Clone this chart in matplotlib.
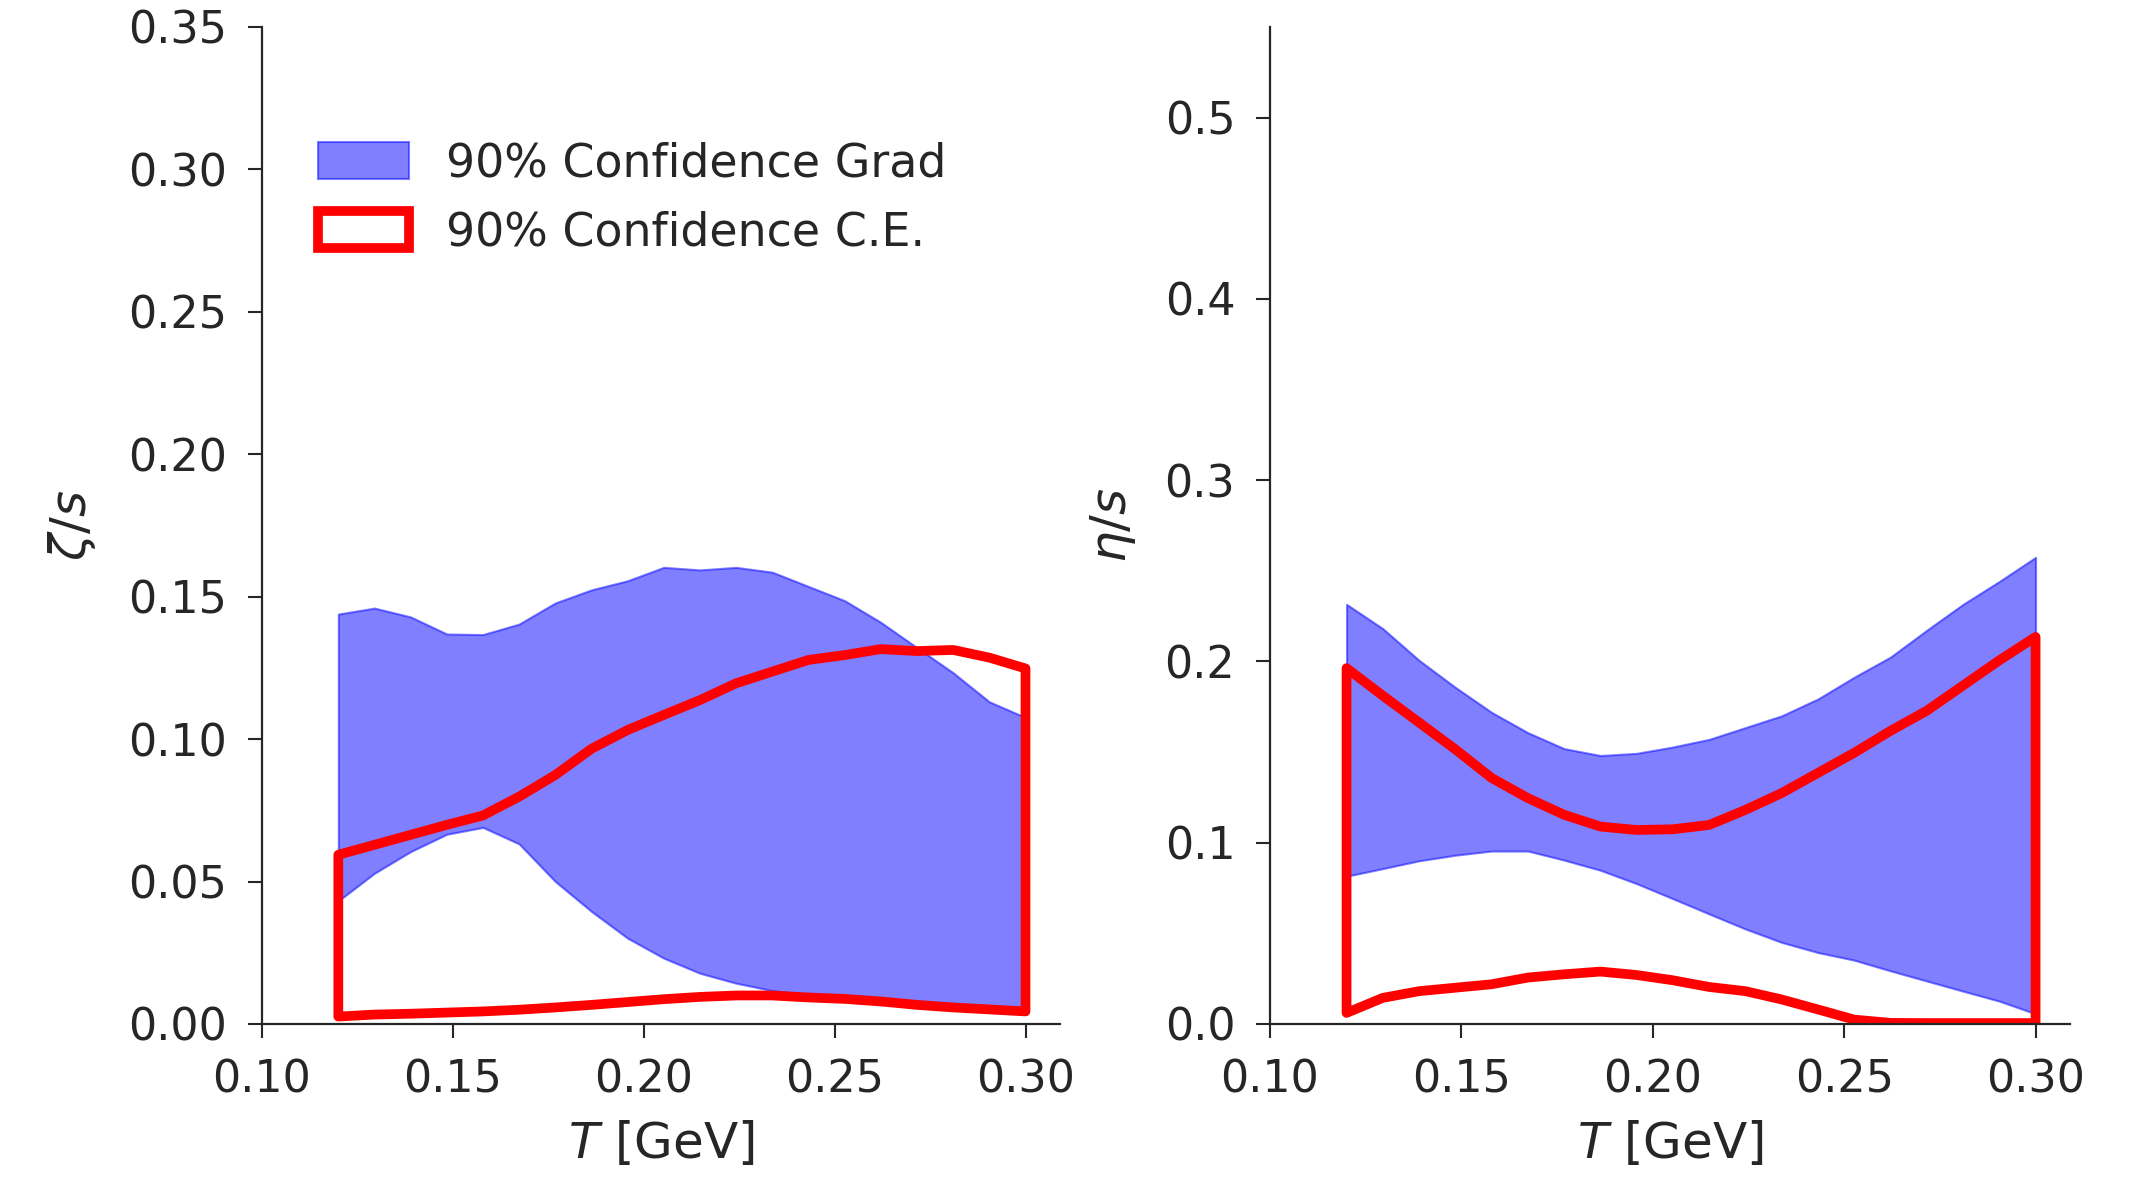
import numpy as np
import matplotlib
matplotlib.use("Agg")
import matplotlib.pyplot as plt

# Temperature grid [GeV]
T = np.linspace(0.12, 0.30, 20)

# Bulk viscosity zeta/s: 90% band, Grad viscous correction
zeta_grad_hi = [0.1439, 0.1460, 0.1429, 0.1369, 0.1367, 0.1404, 0.1478, 0.1524, 0.1556, 0.1603,
                0.1594, 0.1603, 0.1586, 0.1536, 0.1486, 0.1410, 0.1321, 0.1233, 0.1131, 0.1076]
zeta_grad_lo = [0.0432, 0.0529, 0.0605, 0.0666, 0.0690, 0.0632, 0.0500, 0.0395, 0.0301, 0.0231,
                0.0178, 0.0143, 0.0117, 0.0102, 0.0093, 0.0085, 0.0077, 0.0070, 0.0064, 0.0056]
# Bulk viscosity zeta/s: 90% band, Chapman-Enskog viscous correction
zeta_ce_hi = [0.0594, 0.0629, 0.0664, 0.0699, 0.0732, 0.0798, 0.0874, 0.0966, 0.1032, 0.1085,
              0.1137, 0.1196, 0.1237, 0.1278, 0.1295, 0.1316, 0.1309, 0.1313, 0.1286, 0.1248]
zeta_ce_lo = [0.0026, 0.0033, 0.0036, 0.0040, 0.0044, 0.0050, 0.0058, 0.0067, 0.0077, 0.0087,
              0.0095, 0.0100, 0.0100, 0.0093, 0.0088, 0.0079, 0.0067, 0.0058, 0.0051, 0.0044]

# Shear viscosity eta/s: 90% band, Grad
eta_grad_hi = [0.2315, 0.2181, 0.2006, 0.1857, 0.1719, 0.1607, 0.1519, 0.1481, 0.1493, 0.1528,
               0.1570, 0.1635, 0.1700, 0.1793, 0.1913, 0.2024, 0.2172, 0.2315, 0.2441, 0.2574]
eta_grad_lo = [0.0815, 0.0857, 0.0900, 0.0931, 0.0954, 0.0954, 0.0904, 0.0848, 0.0774, 0.0691,
               0.0607, 0.0524, 0.0450, 0.0394, 0.0352, 0.0293, 0.0237, 0.0181, 0.0126, 0.0056]
# Shear viscosity eta/s: 90% band, Chapman-Enskog
eta_ce_hi = [0.1963, 0.1811, 0.1663, 0.1515, 0.1357, 0.1246, 0.1154, 0.1089, 0.1070, 0.1074,
             0.1098, 0.1181, 0.1274, 0.1385, 0.1496, 0.1617, 0.1728, 0.1867, 0.2006, 0.2135]
eta_ce_lo = [0.0061, 0.0144, 0.0181, 0.0200, 0.0219, 0.0256, 0.0274, 0.0289, 0.0270, 0.0241,
             0.0204, 0.0181, 0.0135, 0.0080, 0.0024, 0.0006, 0.0005, 0.0005, 0.0005, 0.0005]

x_ticks = [0.10, 0.15, 0.20, 0.25, 0.30]
zeta_ticks = [0.00, 0.05, 0.10, 0.15, 0.20, 0.25, 0.30, 0.35]
eta_ticks = [0.0, 0.1, 0.2, 0.3, 0.4, 0.5]

dark = "#262626"
plt.rcParams.update({
    "font.family": ["DejaVu Sans"],
    "text.color": dark,
    "axes.labelcolor": dark,
    "axes.edgecolor": dark,
    "xtick.color": dark,
    "ytick.color": dark,
    "axes.linewidth": 1.6,
})

fig = plt.figure(figsize=(21.42, 11.82), dpi=100)
ax1 = fig.add_axes([0.1223, 0.1337, 0.3725, 0.8435])
ax2 = fig.add_axes([0.5929, 0.1337, 0.3735, 0.8435])


def draw_panel(ax, hi_g, lo_g, hi_ce, lo_ce):
    ax.fill_between(T, lo_g, hi_g, color="blue", alpha=0.5, lw=1.5,
                    label="90% Confidence Grad")
    ax.fill_between(T, lo_ce, hi_ce, facecolor="none", edgecolor="red", lw=7,
                    joinstyle="round", label="90% Confidence C.E.")
    ax.set_xlim(0.10, 0.309)
    ax.set_xticks(x_ticks)
    ax.set_xticklabels([f"{v:.2f}" for v in x_ticks])
    for s in ("top", "right"):
        ax.spines[s].set_visible(False)
    ax.tick_params(labelsize=32, length=10, width=1.5, pad=15)
    ax.set_xlabel(r"$T$ [GeV]", fontsize=36)
    ax.xaxis.set_label_coords(0.5, -0.095)


draw_panel(ax1, zeta_grad_hi, zeta_grad_lo, zeta_ce_hi, zeta_ce_lo)
ax1.set_ylim(0, 0.35)
ax1.set_yticks(zeta_ticks)
ax1.set_yticklabels([f"{v:.2f}" for v in zeta_ticks])
ax1.set_ylabel(r"$\zeta/s$", fontsize=36)
ax1.yaxis.set_label_coords(-0.205, 0.5)
ax1.legend(loc="upper left", bbox_to_anchor=(0.07, 0.885), frameon=False,
           fontsize=33, borderpad=0, borderaxespad=0, labelspacing=0.52,
           handlelength=2.0, handleheight=0.85, handletextpad=0.8)

draw_panel(ax2, eta_grad_hi, eta_grad_lo, eta_ce_hi, eta_ce_lo)
ax2.set_ylim(0, 0.55)
ax2.set_yticks(eta_ticks)
ax2.set_yticklabels([f"{v:.1f}" for v in eta_ticks])
ax2.set_ylabel(r"$\eta/s$", fontsize=36)
ax2.yaxis.set_label_coords(-0.165, 0.5)

fig.savefig("out.png", dpi=100)
